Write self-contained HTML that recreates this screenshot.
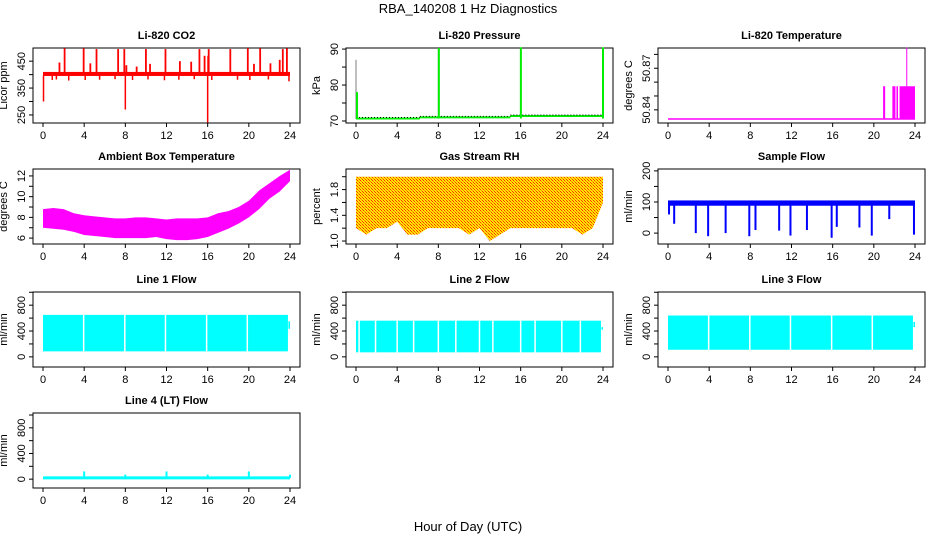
<!DOCTYPE html>
<html><head><meta charset="utf-8"><style>
body{margin:0;background:#fff}
svg text{font-family:"Liberation Sans",Arial,sans-serif;fill:#000}
</style></head><body>
<svg id="chart" width="936" height="540" viewBox="0 0 936 540" xmlns="http://www.w3.org/2000/svg">
<defs>
<pattern id="rhpat" width="3" height="3" patternUnits="userSpaceOnUse">
<rect width="3" height="3" fill="#ffe800"/><rect width="1" height="1" fill="#ff3000"/><rect x="1" y="1" width="1" height="1" fill="#ff8000"/><rect x="2" y="2" width="1" height="1" fill="#ff3000"/>
</pattern>
</defs>
<text x="468" y="13" font-size="13" text-anchor="middle">RBA_140208  1 Hz Diagnostics</text>
<text x="468" y="531" font-size="13" text-anchor="middle">Hour of Day (UTC)</text>
</svg>
<script>
// ---------- data ----------
const xTicks=[0,4,8,12,16,20,24];
// CO2
const co2Base=[395,410];
const co2SpikeHours=[2.1,3.95,5.2,7.3,7.9,10.0,11.9,15.2,16.1,18.2,19.9,21.1,23.3,23.7,1.6,4.6,8.1,9.1,10.4,13.3,14.4,15.7,20.5,22.1,23.0,16.05];
const co2SpikeVals=[498,498,495,495,495,495,495,495,495,495,498,498,495,498,445,442,435,430,440,450,448,470,440,442,455,470];
const co2DipHours=[0.05,8.0,16.0,0.9,1.3,2.5,4.1,5.5,7.0,8.7,10.2,11.8,13.2,14.7,16.4,18.9,20.1,21.9,23.9];
const co2DipVals=[300,270,222,380,382,378,380,381,383,380,382,379,381,383,380,381,380,382,375];
// Pressure
const presStepHours=[0,6.2,15,24];
const presStepVals=[70.7,71.0,71.4];
const presSpikeHours=[0.0,0.1,8.0,8.05,16.0,16.02,23.95,24.0];
const presSpikeVals=[87,78,90,90.3,90.5,90.5,90.3,90.5];
// Li-820 temperature
const tempBase=50.8334;
const tempBlockStart=[20.9,21.8,22.2,22.5];
const tempBlockEnd=[21.1,22.1,22.35,24.0];
const tempBlockTop=50.857;
const tempSpikeHour=23.2, tempSpikeVal=50.885;
// Ambient
const ambHours=[0,1,2,3,4,5,6,7,8,9,10,11,12,13,14,15,16,17,18,19,20,21,22,23,24];
const ambLo=[7.0,6.9,6.8,6.6,6.3,6.2,6.1,6.0,6.0,6.0,6.0,6.1,5.9,5.8,5.8,5.9,6.1,6.5,6.9,7.4,8.0,8.8,9.8,10.5,11.5];
const ambHi=[8.8,8.9,8.8,8.4,8.2,8.1,8.0,7.9,7.9,8.0,8.0,7.9,7.8,7.9,7.9,7.9,8.0,8.4,8.6,9.0,9.6,10.6,11.3,12.0,12.6];
// RH
const rhHours=[0,1,2,3,4,5,6,7,8,9,10,11,12,13,14,15,16,17,18,19,20,21,22,23,24];
const rhLo=[1.2,1.1,1.2,1.2,1.3,1.1,1.1,1.2,1.2,1.2,1.2,1.1,1.2,1.0,1.1,1.2,1.2,1.2,1.2,1.2,1.2,1.2,1.1,1.2,1.6];
const rhHi=[2.0,2.0,2.0,2.0,2.0,2.0,2.0,2.0,2.0,2.0,2.0,2.0,2.0,2.0,2.0,2.0,2.0,2.0,2.0,2.0,2.0,2.0,2.0,2.0,2.0];
// Sample flow
const sfBand=[88,105];
const sfDipHours=[0.1,0.6,2.7,3.9,5.6,7.9,8.5,10.8,11.9,13.5,15.9,16.4,18.6,19.8,21.5,23.9];
const sfDipVals=[60,30,0,-10,0,-10,10,8,-8,10,-15,20,18,-8,45,-5];
// Line flows
const l1Band=[85,650];
const l1Gaps=[3.95,7.95,11.9,15.9,19.85];
const l2Band=[70,560];
const l2Gaps=[0.3,4.0,8.0,12.0,16.0,20.0,1.9,5.6,9.7,13.3,17.4,21.8];
const l3Band=[110,640];
const l3Gaps=[3.95,7.95,11.9,15.9,19.85];
const l4Base=20;
const l4SpikeHours=[4,12,20,8,16,24];
const l4SpikeVals=[120,120,120,70,70,70];

// ---------- layout ----------
const svg=document.getElementById('chart');
const NS='http://www.w3.org/2000/svg';
const colLeft=[33,346,658], rowTop=[48,169,292,413], BW=267, BH=75;
function mk(tag,attrs,parent){const e=document.createElementNS(NS,tag);for(const k in attrs)e.setAttribute(k,attrs[k]);(parent||svg).appendChild(e);return e;}

function panel(r,c,title,ylab,dom,ticks,labels,name){
  const L=colLeft[c],T=rowTop[r];
  const g=mk('g',{});
  
  
  const P={g,L,T,
    sx:h=>L+10+h/24*247,
    sy:v=>T+BH-(v-dom[0])/(dom[1]-dom[0])*BH};
  const box=mk('rect',{x:L,y:T,width:BW,height:BH,fill:'none',stroke:'#000','stroke-width':1},g);
  
  
  const t=mk('text',{x:L+BW/2,y:T-9,'font-size':11,'font-weight':'bold','text-anchor':'middle'},g);
  t.textContent=title;
  
  
  const yl=mk('text',{x:0,y:0,'font-size':11,'text-anchor':'middle',transform:`translate(${L-26},${T+BH/2}) rotate(-90)`},g);
  yl.textContent=ylab;
  
  
  // x axis
  mk('line',{x1:P.sx(0),x2:P.sx(24),y1:T+BH,y2:T+BH,stroke:'#000'},g);
  xTicks.forEach(h=>{
    mk('line',{x1:P.sx(h),x2:P.sx(h),y1:T+BH,y2:T+BH+4,stroke:'#000'},g);
    const tl=mk('text',{x:P.sx(h),y:T+BH+16,'font-size':11,'text-anchor':'middle'},g);
    tl.textContent=h;
    
    
  });
  // y axis
  ticks.forEach(v=>{mk('line',{x1:L,x2:L-4,y1:P.sy(v),y2:P.sy(v),stroke:'#000'},g);});
  labels.forEach(v=>{
    const tl=mk('text',{x:0,y:0,'font-size':11,'text-anchor':'middle',transform:`translate(${L-8},${P.sy(v)}) rotate(-90)`},g);
    tl.textContent=v;
    
    
  });
  return P;
}
function vline(P,h,v1,v2,col,w,name,dash){
  const e=mk('line',{x1:P.sx(h),x2:P.sx(h),y1:P.sy(v1),y2:P.sy(v2),stroke:col,'stroke-width':w||1.5},P.g);
  if(dash)e.setAttribute('stroke-dasharray',dash);
  
  
  return e;
}
function bandPoly(P,hours,lo,hi,fill,name){
  const pts=hours.map((h,i)=>P.sx(h)+','+P.sy(hi[i])).concat(hours.slice().reverse().map((h,i)=>P.sx(h)+','+P.sy(lo[hours.length-1-i])));
  const e=mk('polygon',{points:pts.join(' '),fill:fill},P.g);
  
  
}
function bandRect(P,h0,h1,lo,hi,fill,name){
  const e=mk('rect',{x:P.sx(h0),y:P.sy(hi),width:P.sx(h1)-P.sx(h0),height:P.sy(lo)-P.sy(hi),fill:fill},P.g);
  
  
}

// 1 CO2
let P=panel(0,0,'Li-820 CO2','Licor ppm',[220,499],[250,300,350,400,450],[250,350,450],'co2');
bandRect(P,0,24,co2Base[0],co2Base[1],'#ff0000','co2-band');
co2SpikeHours.forEach((h,i)=>vline(P,h,402,co2SpikeVals[i],'#ff0000',1.8,'co2-spike'));
co2DipHours.forEach((h,i)=>vline(P,h,398,co2DipVals[i],'#ff0000',1.5,'co2-dip'));
// 2 Pressure
P=panel(0,1,'Li-820 Pressure','kPa',[69.44,90.3],[70,75,80,85,90],[70,80,90],'pressure');
presStepVals.forEach((v,i)=>{
  const e=mk('line',{x1:P.sx(presStepHours[i]),x2:P.sx(presStepHours[i+1]),y1:P.sy(v),y2:P.sy(v),stroke:'#00ee00','stroke-width':2},P.g);
  
  
  const d=mk('line',{x1:P.sx(presStepHours[i]),x2:P.sx(presStepHours[i+1]),y1:P.sy(v)-1,y2:P.sy(v)-1,stroke:'#000','stroke-width':1,'stroke-dasharray':'1,2'},P.g);
  
  
});
presSpikeHours.forEach((h,i)=>vline(P,h,70.7,presSpikeVals[i],i%2?'#00ee00':'#000',i%2?2:1,'pressure-spike',i%2?null:'1,1'));
// 3 Temperature
P=panel(0,2,'Li-820 Temperature','degrees C',[50.8305,50.8846],[50.84,50.85,50.86,50.87,50.88],['50.84','50.87'],'li820-temp');
{const e=mk('line',{x1:P.sx(0),x2:P.sx(24),y1:P.sy(tempBase),y2:P.sy(tempBase),stroke:'#ff00ff','stroke-width':1.5},P.g);
}
tempBlockStart.forEach((h,i)=>bandRect(P,h,tempBlockEnd[i],tempBase,tempBlockTop,'#ff00ff','temp-block'));
vline(P,tempSpikeHour,tempBlockTop,tempSpikeVal,'#ff00ff',1,'temp-spike');
// 4 Ambient
P=panel(1,0,'Ambient Box Temperature','degrees C',[5.43,12.67],[6,7,8,9,10,11,12],[6,8,10,12],'ambient');
bandPoly(P,ambHours,ambLo,ambHi,'#ff00ff','ambient-band');
// 5 RH
P=panel(1,1,'Gas Stream RH','percent',[0.954,2.12],[1.0,1.2,1.4,1.6,1.8,2.0],['1.0','1.4','1.8'],'rh');
bandPoly(P,rhHours,rhLo,rhHi,'url(#rhpat)','rh-band');
// 6 Sample flow
P=panel(1,2,'Sample Flow','ml/min',[-35,206],[0,50,100,150,200],[0,100,200],'sample-flow');
bandRect(P,0,24,sfBand[0],sfBand[1],'#0000ff','sample-flow-band');
sfDipHours.forEach((h,i)=>vline(P,h,90,sfDipVals[i],'#0000ff',2,'sample-flow-dip'));
// 7-9 Line flows
const flows=[[2,0,'Line 1 Flow',l1Band,l1Gaps,'line1'],[2,1,'Line 2 Flow',l2Band,l2Gaps,'line2'],[2,2,'Line 3 Flow',l3Band,l3Gaps,'line3']];
flows.forEach(f=>{
  const Q=panel(f[0],f[1],f[2],'ml/min',[-157,1004],[0,200,400,600,800,1000],[0,400,800],f[5]);
  bandRect(Q,0,23.8,f[3][0],f[3][1],'#00ffff',f[5]+'-band');
  bandRect(Q,23.85,24,f[3][0]+350,f[3][1]-100,'#00ffff',f[5]+'-end-band');
  f[4].forEach(h=>vline(Q,h,f[3][0]-10,f[3][1]+10,'#ffffff',1.5,f[5]+'-gap'));
});
// 10 Line 4
P=panel(3,0,'Line 4 (LT) Flow','ml/min',[-138,1031],[0,200,400,600,800,1000],[0,400,800],'line4');
{const e=mk('line',{x1:P.sx(0),x2:P.sx(24),y1:P.sy(l4Base),y2:P.sy(l4Base),stroke:'#00ffff','stroke-width':3},P.g);
}
l4SpikeHours.forEach((h,i)=>vline(P,h,l4Base,l4SpikeVals[i],'#00ffff',2,'line4-spike'));
</script>
</body></html>
